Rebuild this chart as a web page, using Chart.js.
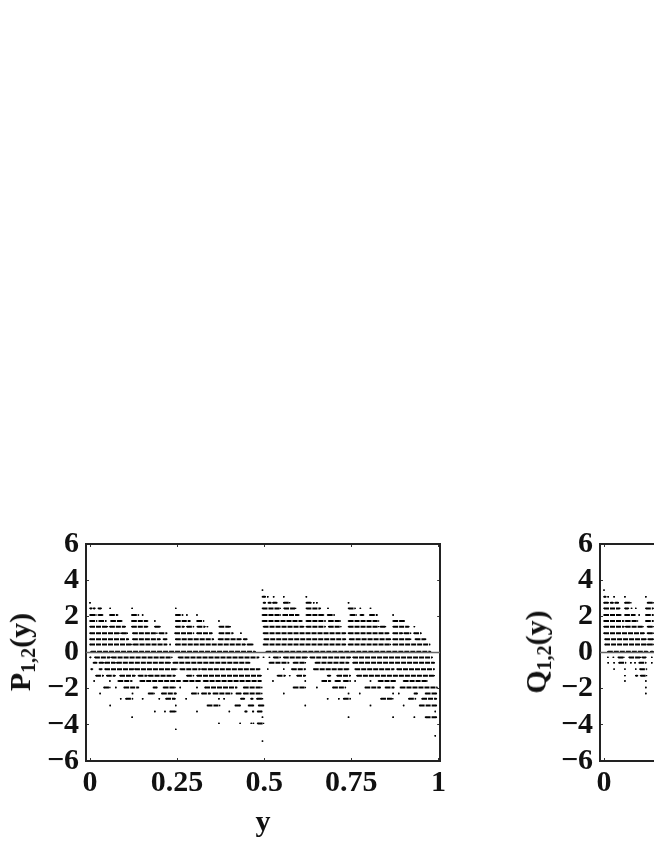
<!DOCTYPE html>
<html>
<head>
    <title>P and Q</title>
    <script src="https://cdn.jsdelivr.net/npm/chart.js"></script>
    <style>
        html, body { margin: 0; padding: 0; background: #fff; overflow: hidden; width: 654px; height: 846px; }
        .panel { position: absolute; top: 516px; width: 453px; height: 325px; }
        .ylab {
            position: absolute;
            font: bold 30px 'Liberation Serif', serif;
            color: #111;
            white-space: nowrap;
            transform: translate(-50%, -50%) rotate(-90deg);
        }
        .ylab sub { font-size: 20px; line-height: 0; vertical-align: -5px; }
    </style>
</head>
<body>
    <div class="panel" style="left:0"><canvas id="chartP"></canvas></div>
    <div class="panel" style="left:514px"><canvas id="chartQ"></canvas></div>
    <div class="ylab" style="left:20px;top:652px">P<sub>1,2</sub>(y)</div>
    <div class="ylab" style="left:536px;top:652px">Q<sub>1,2</sub>(y)</div>

    <script>
        const xTicks = [0, 0.25, 0.5, 0.75, 1];
        const xTickLabels = ['0', '0.25', '0.5', '0.75', '1'];
        const yTicks = [-6, -4, -2, 0, 2, 4, 6];
        const yTickLabels = ['\u22126', '\u22124', '\u22122', '0', '2', '4', '6'];

        // each row: level of the row, then [from, to] stretches of dots along y
        const pLevels = [3.45, 3.08, 2.75, 2.44, 2.07, 1.74, 1.43, 1.06, 0.73, 0.44, 0.04, -0.27, -0.57, -0.92, -1.28, -1.58, -1.94, -2.27, -2.56, -2.93, -3.26, -3.58, -3.92, -4.25, -4.6, -4.9];
        const pRuns = [
            [[.495,.495]],
            [[.495,.503],[.51,.51],[.527,.527],[.556,.556],[.621,.621]],
            [[0,0],[.498,.503],[.512,.519],[.525,.536],[.556,.573],[.621,.634],[.642,.642],[.651,.651],[.742,.742]],
            [[0,.005],[.01,.014],[.024,.032],[.058,.058],[.121,.121],[.246,.246],[.495,.546],[.557,.59],[.621,.661],[.683,.683],[.742,.761],[.776,.776],[.805,.805]],
            [[0,.017],[.024,.036],[.057,.079],[.12,.139],[.151,.151],[.246,.266],[.278,.278],[.307,.307],[.495,.546],[.554,.599],[.621,.67],[.682,.701],[.747,.764],[.776,.785],[.803,.824],[.87,.87]],
            [[0,.019],[.026,.046],[.06,.091],[.12,.165],[.186,.186],[.246,.287],[.307,.326],[.37,.37],[.495,.608],[.621,.675],[.685,.718],[.742,.828],[.87,.902]],
            [[0,.05],[.057,.101],[.12,.165],[.186,.201],[.246,.27],[.278,.297],[.308,.33],[.337,.337],[.371,.4],[.402,.402],[.498,.613],[.621,.675],[.685,.72],[.742,.828],[.833,.848],[.87,.915],[.931,.931]],
            [[0,.086],[.091,.107],[.123,.192],[.199,.22],[.244,.297],[.307,.35],[.371,.41],[.433,.433],[.498,.733],[.742,.857],[.87,.896],[.902,.92],[.93,.95]],
            [[0,.11],[.123,.201],[.211,.22],[.246,.354],[.369,.433],[.441,.45],[.5,.733],[.745,.862],[.87,.92],[.934,.963]],
            [[0,.12],[.125,.22],[.23,.23],[.246,.445],[.452,.467],[.498,.733],[.742,.862],[.87,.975]],
            [[.003,.474],[.506,.977]],
            [[0,.002],[.014,.057],[.062,.235],[.254,.484],[.498,.498],[.515,.515],[.527,.546],[.556,.623],[.632,.747],[.755,.982]],
            [[.01,.019],[.027,.038],[.043,.072],[.077,.23],[.239,.458],[.515,.57],[.584,.618],[.647,.742],[.755,.988]],
            [[.003,.007],[.027,.034],[.043,.125],[.129,.249],[.259,.316],[.321,.487],[.51,.51],[.556,.556],[.579,.618],[.642,.742],[.761,.872],[.881,.988]],
            [[.017,.038],[.048,.072],[.086,.129],[.139,.163],[.168,.244],[.278,.297],[.307,.491],[.538,.56],[.573,.573],[.594,.618],[.682,.69],[.709,.747],[.766,.988]],
            [[.012,.012],[.057,.057],[.081,.12],[.144,.259],[.268,.316],[.326,.491],[.525,.525],[.618,.618],[.666,.69],[.704,.718],[.728,.747],[.761,.761],[.805,.805],[.828,.876],[.9,.967]],
            [[.04,.057],[.074,.074],[.098,.139],[.182,.192],[.211,.244],[.259,.259],[.307,.307],[.33,.421],[.441,.493],[.584,.618],[.651,.651],[.697,.733],[.79,.833],[.848,.872],[.891,.996]],
            [[.029,.029],[.122,.122],[.168,.184],[.206,.247],[.292,.311],[.321,.345],[.354,.407],[.42,.433],[.441,.493],[.556,.556],[.742,.742],[.774,.774],[.87,.87],[.886,.886],[.931,.939],[.963,.994]],
            [[.088,.088],[.103,.122],[.151,.151],[.199,.199],[.218,.244],[.276,.276],[.37,.37],[.385,.385],[.433,.443],[.462,.467],[.479,.495],[.682,.682],[.714,.714],[.728,.747],[.835,.869],[.915,.934],[.953,.994]],
            [[.058,.058],[.246,.246],[.337,.372],[.417,.431],[.455,.469],[.484,.498],[.618,.618],[.805,.805],[.9,.9],[.946,.994]],
            [[.186,.186],[.215,.215],[.23,.246],[.307,.307],[.4,.4],[.445,.45],[.467,.469],[.481,.493],[.991,.991]],
            [[.121,.121],[.495,.495],[.742,.742],[.87,.87],[.931,.931],[.963,.994]],
            [[.37,.37],[.431,.431],[.463,.463],[.469,.469],[.481,.498]],
            [[.246,.246]],
            [[.991,.991]],
            [[.495,.495]]
        ];

        // only the part of the Q panel that fits on the page
        const qLevels = [3.45, 3.08, 2.75, 2.44, 2.07, 1.74, 1.43, 1.06, 0.73, 0.44, 0.04, -0.27, -0.57, -0.92, -1.28, -1.58, -1.94, -2.27];
        const qRuns = [
            [[0,0]],
            [[0,.005],[.012,.012],[.029,.029],[.06,.06],[.12,.12]],
            [[0,.012],[.019,.026],[.032,.041],[.06,.077],[.125,.141]],
            [[0,.045],[.06,.07],[.079,.079],[.091,.091],[.12,.141]],
            [[0,.048],[.06,.089],[.101,.101],[.12,.141]],
            [[0,.056],[.062,.096],[.12,.141]],
            [[0,.057],[.062,.112],[.125,.141]],
            [[0,.115],[.125,.141]],
            [[.003,.12],[.127,.141]],
            [[.003,.12],[.125,.141]],
            [[.011,.125],[.134,.141]],
            [[.011,.011],[.027,.027],[.041,.057],[.072,.105],[.11,.12],[.137,.137]],
            [[.012,.012],[.029,.029],[.043,.062],[.077,.077],[.089,.089],[.101,.12],[.137,.137]],
            [[.029,.029],[.06,.06],[.091,.091],[.103,.122]],
            [[.06,.06],[.091,.096],[.105,.122]],
            [[.06,.06],[.12,.12]],
            [[.12,.12]],
            [[.12,.12]]
        ];

        const ink = '#000';
        const frame = '#222';
        const tickFont = { family: "'Liberation Serif', serif", size: 30, weight: 'bold' };

        function rowsToPoints(levels, runs) {
            const pts = [];
            levels.forEach((lv, i) => {
                runs[i].forEach(r => {
                    pts.push({ x: r[0], y: lv }, { x: r[1], y: lv }, { x: r[1], y: null });
                });
            });
            return pts;
        }

        function axis(position, values, min, max, size, extra) {
            return Object.assign({
                type: 'linear',
                position: position,
                min: min,
                max: max,
                border: { display: true, color: frame, width: 2 },
                grid: { drawOnChartArea: false, drawTicks: true, tickLength: -3, color: '#333', lineWidth: 1 },
                ticks: { display: false },
                afterBuildTicks: s => { s.ticks = values.map(v => ({ value: v })); },
                afterFit: s => {
                    if (position === 'top' || position === 'bottom') s.height = size;
                    else s.width = size;
                }
            }, extra);
        }

        function makeChart(id, levels, runs) {
            return new Chart(document.getElementById(id), {
                type: 'scatter',
                data: {
                    datasets: [
                        {
                            data: [{ x: -0.0115, y: 0 }, { x: 1.005, y: 0 }],
                            showLine: true,
                            borderColor: '#666',
                            borderWidth: 1.5,
                            pointRadius: 0,
                            order: 0
                        },
                        {
                            data: rowsToPoints(levels, runs),
                            showLine: true,
                            spanGaps: false,
                            borderColor: ink,
                            borderWidth: 2,
                            borderDash: [5, 1],
                            borderCapStyle: 'butt',
                            pointStyle: 'rect',
                            pointRadius: 1,
                            pointBorderWidth: 0,
                            pointBackgroundColor: ink,
                            order: 1
                        }
                    ]
                },
                options: {
                    responsive: true,
                    maintainAspectRatio: false,
                    animation: false,
                    events: [],
                    layout: { padding: { top: 0, right: 10, bottom: 0, left: 0 } },
                    plugins: { legend: { display: false }, tooltip: { enabled: false } },
                    scales: {
                        x: axis('bottom', xTicks, -0.0115, 1.005, 80, {
                            ticks: {
                                color: '#111',
                                font: tickFont,
                                padding: 7,
                                maxRotation: 0,
                                autoSkip: false,
                                callback: v => xTickLabels[xTicks.indexOf(v)]
                            },
                            title: { display: true, text: 'y', color: '#111', font: tickFont, padding: 0 }
                        }),
                        y: axis('left', yTicks, -6, 6, 86, {
                            ticks: {
                                color: '#111',
                                font: tickFont,
                                padding: 10,
                                autoSkip: false,
                                callback: v => yTickLabels[yTicks.indexOf(v)]
                            }
                        }),
                        x2: axis('top', xTicks, -0.0115, 1.005, 0),
                        y2: axis('right', yTicks, -6, 6, 0)
                    }
                }
            });
        }

        makeChart('chartP', pLevels, pRuns);
        makeChart('chartQ', qLevels, qRuns);
    </script>
</body>
</html>
